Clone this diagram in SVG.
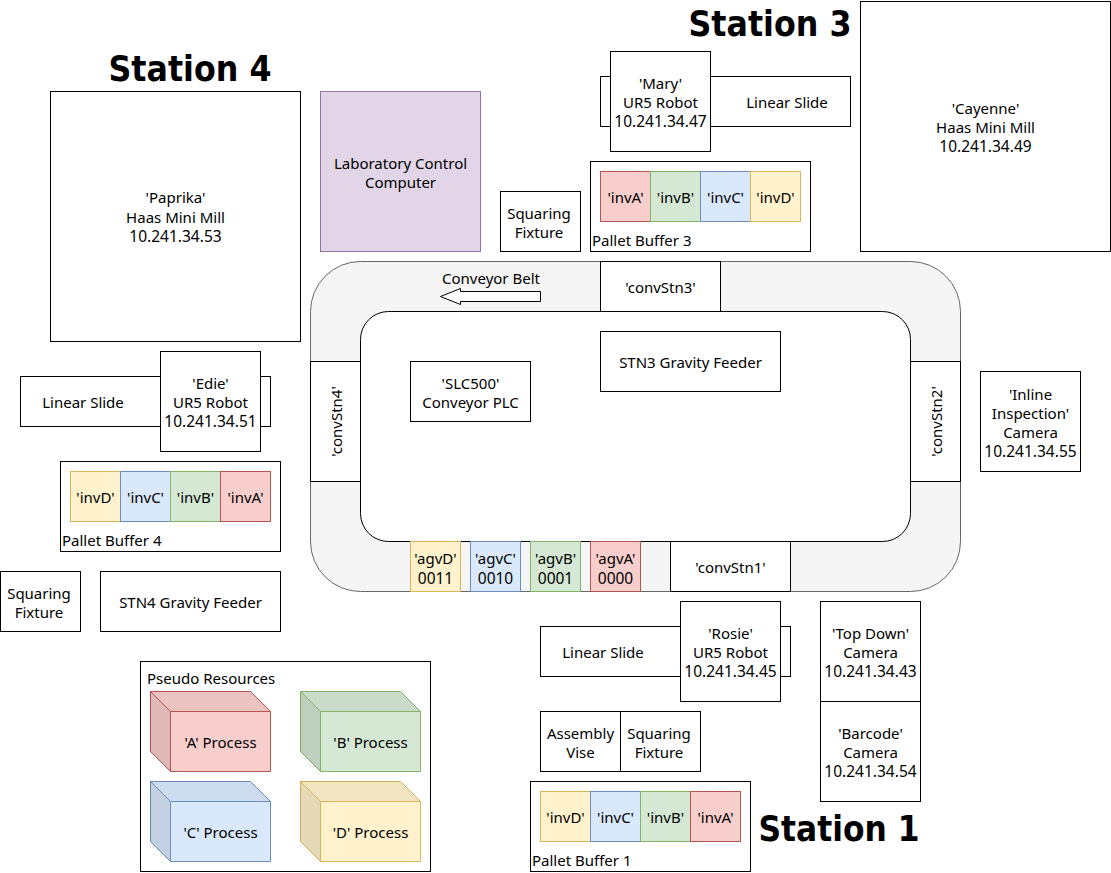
<svg xmlns="http://www.w3.org/2000/svg" width="1111" height="873" viewBox="0 0 1111 873">
<style>
text{font-family:"Noto Sans","DejaVu Sans",sans-serif;font-size:15px;fill:#000;text-anchor:middle}
text.l{text-anchor:start}
text.n{font-size:15.5px}
text.t{font-family:"DejaVu Sans",sans-serif;font-weight:bold;font-size:35px}
rect,path{stroke:#000;stroke-width:1;fill:#fff}
.r{fill:#f8cecc;stroke:#b85450}.g{fill:#d5e8d4;stroke:#82b366}.b{fill:#dae8fc;stroke:#6c8ebf}.y{fill:#fff2cc;stroke:#d6b656}
path.s1{fill:#000;fill-opacity:.05;stroke:none}
path.s2{fill:#000;fill-opacity:.1;stroke:none}
path.o{fill:none}
</style>
<g id="conveyor">
<rect x="310.5" y="261.5" width="650" height="330" rx="50" ry="50" style="fill:#f5f5f5;stroke:#666"/>
<rect x="360.5" y="311.5" width="550" height="230" rx="28" ry="28"/>
</g>
<g id="connectors"/>
<g id="belt-arrow"><path d="M540.5 291.5H460.5V288.5L440.5 296.5L460.5 304.5V301.5H540.5Z"/><text x="491" y="284">Conveyor Belt</text></g>
<g id="convStn3"><rect x="600.5" y="261.5" width="120" height="50"/><text x="660.5" y="293">'convStn3'</text></g>
<g id="convStn1"><rect x="670.5" y="541.5" width="120" height="50"/><text x="730.5" y="573">'convStn1'</text></g>
<g id="convStn4"><rect x="310.5" y="361.5" width="50" height="120"/><text transform="translate(342 421.5) rotate(-90)">'convStn4'</text></g>
<g id="convStn2"><rect x="910.5" y="361.5" width="50" height="120"/><text transform="translate(942 421.5) rotate(-90)">'convStn2'</text></g>
<g id="agvD"><rect class="y" x="410.5" y="541.5" width="50" height="50"/><text x="435.5" y="564">'agvD'</text><text class="n" x="435.5" y="584">0011</text></g>
<g id="agvC"><rect class="b" x="470.5" y="541.5" width="50" height="50"/><text x="495.5" y="564">'agvC'</text><text class="n" x="495.5" y="584">0010</text></g>
<g id="agvB"><rect class="g" x="530.5" y="541.5" width="50" height="50"/><text x="555.5" y="564">'agvB'</text><text class="n" x="555.5" y="584">0001</text></g>
<g id="agvA"><rect class="r" x="590.5" y="541.5" width="50" height="50"/><text x="615.5" y="564">'agvA'</text><text class="n" x="615.5" y="584">0000</text></g>
<g id="paprika"><rect x="50.5" y="91.5" width="250" height="250"/><text x="175.5" y="203">'Paprika'</text><text x="175.5" y="223">Haas Mini Mill</text><text class="n" x="175.5" y="242">10.241.34.53</text></g>
<g id="lab-computer"><rect x="320.5" y="91.5" width="160" height="160" style="fill:#e1d5e7;stroke:#9673a6"/><text x="400.5" y="169">Laboratory Control</text><text x="400.5" y="188">Computer</text></g>
<g id="cayenne"><rect x="860.5" y="1.5" width="250" height="250"/><text x="985.5" y="114">'Cayenne'</text><text x="985.5" y="133">Haas Mini Mill</text><text class="n" x="985.5" y="152">10.241.34.49</text></g>
<g id="slide3"><rect x="600.5" y="76.5" width="250" height="50"/><text x="787" y="108">Linear Slide</text></g>
<g id="mary"><rect x="610.5" y="51.5" width="100" height="100"/><text x="660.5" y="89">'Mary'</text><text x="660.5" y="108">UR5 Robot</text><text class="n" x="660.5" y="127">10.241.34.47</text></g>
<g id="buffer3"><rect x="590.5" y="161.5" width="220" height="90"/>
<rect class="r" x="600.5" y="171.5" width="50" height="50"/><rect class="g" x="650.5" y="171.5" width="50" height="50"/><rect class="b" x="700.5" y="171.5" width="50" height="50"/><rect class="y" x="750.5" y="171.5" width="50" height="50"/>
<text x="625.5" y="203">'invA'</text><text x="675.5" y="203">'invB'</text><text x="725.5" y="203">'invC'</text><text x="775.5" y="203">'invD'</text>
<text class="l" x="592" y="246">Pallet Buffer 3</text></g>
<g id="fixture3"><rect x="500.5" y="191.5" width="80" height="60"/><text x="539" y="219">Squaring</text><text x="539" y="238">Fixture</text></g>
<g id="slc500"><rect x="410.5" y="361.5" width="120" height="60"/><text x="470.5" y="389">'SLC500'</text><text x="470.5" y="408">Conveyor PLC</text></g>
<g id="feeder3"><rect x="600.5" y="331.5" width="180" height="60"/><text x="690.5" y="368">STN3 Gravity Feeder</text></g>
<g id="inline-camera"><rect x="980.5" y="371.5" width="100" height="100"/><text x="1030.5" y="400">'Inline</text><text x="1030.5" y="419">Inspection'</text><text x="1030.5" y="438">Camera</text><text class="n" x="1030.5" y="457">10.241.34.55</text></g>
<g id="slide4"><rect x="20.5" y="376.5" width="250" height="50"/><text x="83" y="408">Linear Slide</text></g>
<g id="edie"><rect x="160.5" y="351.5" width="100" height="100"/><text x="210.5" y="389">'Edie'</text><text x="210.5" y="408">UR5 Robot</text><text class="n" x="210.5" y="427">10.241.34.51</text></g>
<g id="buffer4"><rect x="60.5" y="461.5" width="220" height="90"/>
<rect class="y" x="70.5" y="471.5" width="50" height="50"/><rect class="b" x="120.5" y="471.5" width="50" height="50"/><rect class="g" x="170.5" y="471.5" width="50" height="50"/><rect class="r" x="220.5" y="471.5" width="50" height="50"/>
<text x="95.5" y="503">'invD'</text><text x="145.5" y="503">'invC'</text><text x="195.5" y="503">'invB'</text><text x="245.5" y="503">'invA'</text>
<text class="l" x="62" y="546">Pallet Buffer 4</text></g>
<g id="fixture4"><rect x="0.5" y="571.5" width="80" height="60"/><text x="39" y="599">Squaring</text><text x="39" y="618">Fixture</text></g>
<g id="feeder4"><rect x="100.5" y="571.5" width="180" height="60"/><text x="190.5" y="608">STN4 Gravity Feeder</text></g>
<g id="pseudo"><rect x="140.5" y="661.5" width="290" height="210"/><text class="l" x="147" y="684">Pseudo Resources</text></g>
<g id="procA"><path class="r" d="M150.5 691.5H250.5L270.5 711.5V771.5H170.5L150.5 751.5Z"/><path class="s1" d="M150.5 691.5H250.5L270.5 711.5H170.5Z"/><path class="s2" d="M150.5 691.5L170.5 711.5V771.5L150.5 751.5Z"/><path class="r o" d="M150.5 691.5L170.5 711.5H270.5M170.5 711.5V771.5"/><text x="220.5" y="748">'A' Process</text></g>
<g id="procB"><path class="g" d="M300.5 691.5H400.5L420.5 711.5V771.5H320.5L300.5 751.5Z"/><path class="s1" d="M300.5 691.5H400.5L420.5 711.5H320.5Z"/><path class="s2" d="M300.5 691.5L320.5 711.5V771.5L300.5 751.5Z"/><path class="g o" d="M300.5 691.5L320.5 711.5H420.5M320.5 711.5V771.5"/><text x="370.5" y="748">'B' Process</text></g>
<g id="procC"><path class="b" d="M150.5 781.5H250.5L270.5 801.5V861.5H170.5L150.5 841.5Z"/><path class="s1" d="M150.5 781.5H250.5L270.5 801.5H170.5Z"/><path class="s2" d="M150.5 781.5L170.5 801.5V861.5L150.5 841.5Z"/><path class="b o" d="M150.5 781.5L170.5 801.5H270.5M170.5 801.5V861.5"/><text x="220.5" y="838">'C' Process</text></g>
<g id="procD"><path class="y" d="M300.5 781.5H400.5L420.5 801.5V861.5H320.5L300.5 841.5Z"/><path class="s1" d="M300.5 781.5H400.5L420.5 801.5H320.5Z"/><path class="s2" d="M300.5 781.5L320.5 801.5V861.5L300.5 841.5Z"/><path class="y o" d="M300.5 781.5L320.5 801.5H420.5M320.5 801.5V861.5"/><text x="370.5" y="838">'D' Process</text></g>
<g id="slide1"><rect x="540.5" y="626.5" width="250" height="50"/><text x="603" y="658">Linear Slide</text></g>
<g id="rosie"><rect x="680.5" y="601.5" width="100" height="100"/><text x="730.5" y="639">'Rosie'</text><text x="730.5" y="658">UR5 Robot</text><text class="n" x="730.5" y="677">10.241.34.45</text></g>
<g id="top-camera"><rect x="820.5" y="601.5" width="100" height="100"/><text x="870.5" y="639">'Top Down'</text><text x="870.5" y="658">Camera</text><text class="n" x="870.5" y="677">10.241.34.43</text></g>
<g id="barcode-camera"><rect x="820.5" y="701.5" width="100" height="100"/><text x="870.5" y="739">'Barcode'</text><text x="870.5" y="758">Camera</text><text class="n" x="870.5" y="777">10.241.34.54</text></g>
<g id="vise"><rect x="540.5" y="711.5" width="80" height="60"/><text x="580.5" y="739">Assembly</text><text x="580.5" y="758">Vise</text></g>
<g id="fixture1"><rect x="620.5" y="711.5" width="80" height="60"/><text x="659" y="739">Squaring</text><text x="659" y="758">Fixture</text></g>
<g id="buffer1"><rect x="530.5" y="781.5" width="220" height="90"/>
<rect class="y" x="540.5" y="791.5" width="50" height="50"/><rect class="b" x="590.5" y="791.5" width="50" height="50"/><rect class="g" x="640.5" y="791.5" width="50" height="50"/><rect class="r" x="690.5" y="791.5" width="50" height="50"/>
<text x="565.5" y="823">'invD'</text><text x="615.5" y="823">'invC'</text><text x="665.5" y="823">'invB'</text><text x="715.5" y="823">'invA'</text>
<text class="l" x="532" y="866">Pallet Buffer 1</text></g>
<g id="titles"><text class="t" x="190" y="81" textLength="163" lengthAdjust="spacingAndGlyphs">Station 4</text><text class="t" x="770" y="36" textLength="163" lengthAdjust="spacingAndGlyphs">Station 3</text><text class="t" x="839" y="841" textLength="161" lengthAdjust="spacingAndGlyphs">Station 1</text></g>
</svg>
